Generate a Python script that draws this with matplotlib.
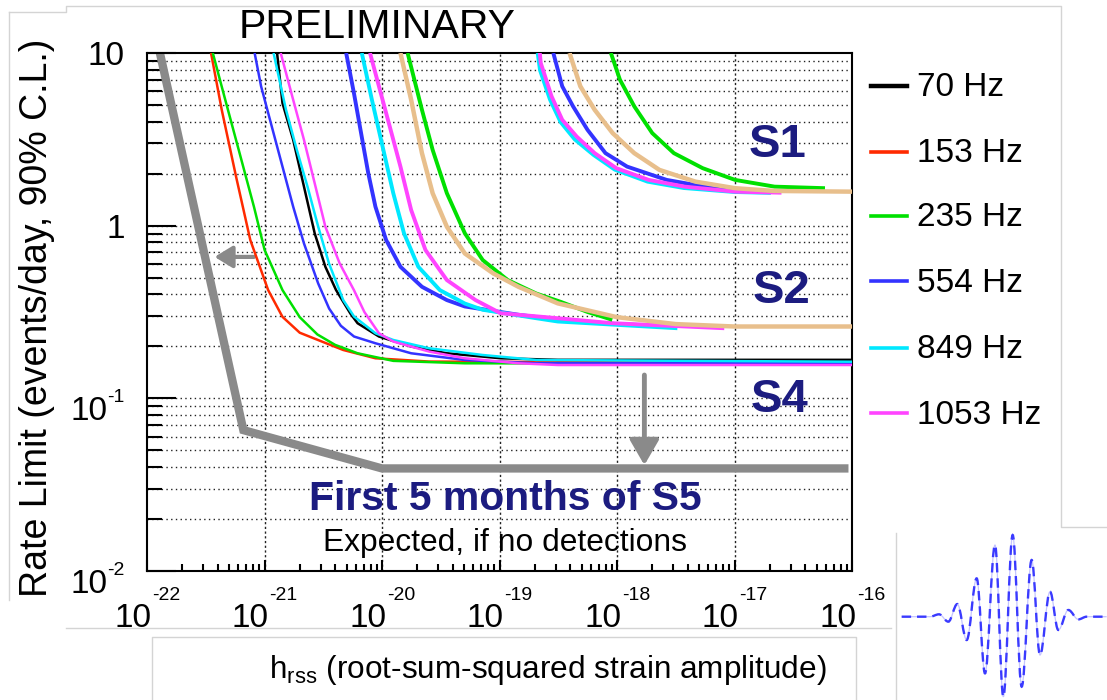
import numpy as np
import matplotlib
matplotlib.use('Agg')
import matplotlib.pyplot as plt
from matplotlib.lines import Line2D
from matplotlib.path import Path
from matplotlib.patches import PathPatch
from matplotlib.ticker import FixedLocator, NullFormatter

plt.rcParams['font.family'] = ['Liberation Sans', 'DejaVu Sans']
plt.rcParams['mathtext.fontset'] = 'custom'
plt.rcParams['mathtext.rm'] = 'Liberation Sans'
plt.rcParams['mathtext.it'] = 'Liberation Sans:italic'
plt.rcParams['mathtext.bf'] = 'Liberation Sans:bold'

# ---------------- data: log10(h_rss), log10(rate limit) ----------------
legend_labels = ['70 Hz', '153 Hz', '235 Hz', '554 Hz', '849 Hz', '1053 Hz']
x_tick_exps = [-22, -21, -20, -19, -18, -17, -16]
y_tick_exps = [-2, -1, 0, 1]
y_tick_plain = {0: '1', 1: '10'}

# S4 run
s4_70_logh = [-20.893, -20.847, -20.756, -20.664, -20.573, -20.482, -20.391, -20.269, -20.208, -20.026, -19.752, -19.448, -18.991, -18.504, -16.0]
s4_70_logr = [1.0, 0.710, 0.497, 0.226, -0.044, -0.238, -0.373, -0.509, -0.565, -0.642, -0.700, -0.739, -0.768, -0.777, -0.777]
s4_153_logh = [-21.455, -21.364, -21.242, -21.121, -20.969, -20.847, -20.70, -20.512, -20.330, -20.056, -19.600, -16.0]
s4_153_logr = [1.0, 0.671, 0.284, -0.083, -0.373, -0.528, -0.62, -0.671, -0.720, -0.768, -0.787, -0.797]
s4_235_logh = [-21.44, -21.334, -21.212, -21.090, -20.999, -20.847, -20.70, -20.55, -20.40, -20.208, -19.904, -19.295, -16.0]
s4_235_logr = [1.0, 0.729, 0.420, 0.110, -0.141, -0.373, -0.53, -0.63, -0.69, -0.739, -0.783, -0.797, -0.800]
s4_554_logh = [-21.084, -21.029, -20.938, -20.847, -20.756, -20.664, -20.543, -20.45, -20.35, -20.238, -20.056, -19.752, -19.295, -18.687, -16.0]
s4_554_logr = [1.0, 0.807, 0.574, 0.342, 0.110, -0.103, -0.335, -0.48, -0.58, -0.642, -0.681, -0.739, -0.778, -0.797, -0.797]
s4_849_logh = [-20.923, -20.817, -20.725, -20.634, -20.543, -20.451, -20.330, -20.238, -20.056, -19.904, -19.600, -19.143, -18.687, -16.0]
s4_849_logr = [1.0, 0.671, 0.439, 0.226, -0.006, -0.219, -0.431, -0.526, -0.623, -0.662, -0.710, -0.749, -0.778, -0.788]
s4_1053_logh = [-20.862, -20.756, -20.664, -20.573, -20.482, -20.360, -20.239, -20.15, -20.026, -19.904, -19.600, -19.295, -18.839, -18.504, -16.0]
s4_1053_logr = [1.0, 0.729, 0.497, 0.246, -0.006, -0.219, -0.373, -0.50, -0.623, -0.671, -0.729, -0.768, -0.797, -0.807, -0.807]

# S2 run
s2_554_logh = [-20.305, -20.239, -20.178, -20.117, -20.056, -19.965, -19.843, -19.660, -19.448, -19.295, -18.839, -18.504, -18.0, -17.5]
s2_554_logr = [1.0, 0.768, 0.536, 0.304, 0.110, -0.083, -0.238, -0.354, -0.431, -0.468, -0.516, -0.545, -0.570, -0.584]
s2_849_logh = [-20.172, -20.086, -19.995, -19.904, -19.813, -19.691, -19.508, -19.295, -19.143, -18.687, -18.504, -17.486]
s2_849_logr = [1.0, 0.729, 0.458, 0.188, -0.044, -0.238, -0.373, -0.451, -0.487, -0.536, -0.555, -0.594]
s2_1053_logh = [-20.102, -20.026, -19.934, -19.843, -19.752, -19.630, -19.448, -19.204, -18.991, -18.504, -18.037, -17.087]
s2_1053_logr = [1.0, 0.807, 0.574, 0.342, 0.091, -0.141, -0.315, -0.431, -0.507, -0.536, -0.565, -0.594]
s2_tan_logh = [-19.843, -19.752, -19.660, -19.569, -19.448, -19.295, -19.052, -18.839, -18.504, -18.0, -17.5, -17.0, -16.0]
s2_tan_logr = [1.0, 0.729, 0.420, 0.188, -0.006, -0.161, -0.277, -0.354, -0.45, -0.53, -0.57, -0.584, -0.584]
s2_235_logh = [-19.782, -19.660, -19.569, -19.448, -19.295, -19.143, -18.930, -18.687, -18.480, -18.25, -18.04]
s2_235_logr = [1.0, 0.671, 0.439, 0.188, -0.044, -0.199, -0.315, -0.393, -0.441, -0.50, -0.545]

# S1 run
s1_554_logh = [-18.542, -18.466, -18.374, -18.251, -18.098, -17.914, -17.577, -17.179, -16.995]
s1_554_logr = [1.0, 0.807, 0.691, 0.555, 0.420, 0.342, 0.265, 0.217, 0.203]
s1_849_logh = [-18.675, -18.655, -18.57, -18.48, -18.36, -18.20, -18.02, -17.74, -17.43, -17.0, -16.69]
s1_849_logr = [1.0, 0.90, 0.73, 0.60, 0.50, 0.41, 0.325, 0.255, 0.218, 0.195, 0.19]
s1_1053_logh = [-18.657, -18.649, -18.557, -18.466, -18.343, -18.190, -18.006, -17.730, -17.424, -16.995, -16.60]
s1_1053_logr = [1.0, 0.942, 0.749, 0.613, 0.516, 0.420, 0.333, 0.265, 0.226, 0.197, 0.191]
s1_tan_logh = [-18.404, -18.312, -18.190, -18.037, -17.853, -17.639, -17.332, -16.995, -16.659, -16.0]
s1_tan_logr = [1.0, 0.807, 0.671, 0.536, 0.420, 0.323, 0.255, 0.217, 0.201, 0.197]
s1_235_logh = [-18.052, -17.975, -17.853, -17.700, -17.516, -17.271, -16.995, -16.659, -16.230]
s1_235_logr = [1.0, 0.845, 0.691, 0.536, 0.420, 0.333, 0.265, 0.226, 0.217]

# S5 expected (grey)
s5_logh = [-21.89, -21.18, -20.0, -16.03]
s5_logr = [1.0, -1.184, -1.406, -1.406]

# arrows (tail, head) in log units
arrow_left_logh = [-21.09, -21.425]
arrow_left_logr = [-0.181, -0.181]
arrow_down_logh = [-17.767, -17.767]
arrow_down_logr = [-0.865, -1.387]

# waveform icon extrema (time units, relative amplitude)
wave_t = [65, 150, 177, 205, 232, 260, 290, 315, 345, 370, 398, 425, 455, 480, 510, 535, 565, 595, 620, 680]
wave_a = [0.0, 0.0, 0.029, -0.061, 0.155, -0.286, 0.469, -0.694, 0.878, -0.98, 1.0, -0.857, 0.694, -0.469, 0.306, -0.163, 0.082, -0.033, 0.0, 0.0]

# ---------------- colours ----------------
C_BLACK = '#000000'
C_RED = '#ff2a00'
C_GREEN = '#00e000'
C_BLUE = '#3333ff'
C_CYAN = '#00e8ff'
C_MAG = '#ff44ff'
C_TAN = '#e8bf8c'
C_NAVY = '#1c1c80'
C_GREY = '#8a8a8a'

W, H = 1107, 700
fig = plt.figure(figsize=(W / 100, H / 100), dpi=100)


def fx(px):
    return px / W


def fy(py):
    return 1 - py / H


# slide frame lines (faint)
frame_col = '#d4d4d4'
for xs, ys in [([9, 66, 66, 1061, 1061, 1107], [12, 12, 6, 6, 527, 527]),
               ([9, 9], [12, 600]),
               ([66, 891], [628, 628]),
               ([152, 152, 856, 856], [700, 637, 637, 700]),
               ([896, 896], [533, 700])]:
    fig.add_artist(Line2D([fx(v) for v in xs], [fy(v) for v in ys], color=frame_col, lw=1.0))

ax = fig.add_axes([fx(147), fy(571), fx(852) - fx(147), fy(53) - fy(571)])
ax.set_xscale('log')
ax.set_yscale('log')
ax.set_xlim(10.0 ** x_tick_exps[0], 10.0 ** x_tick_exps[-1])
ax.set_ylim(10.0 ** y_tick_exps[0], 10.0 ** y_tick_exps[-1])


def tenp(a):
    return [10.0 ** v for v in a]


# grid
for yv in [m * 10.0 ** e for e in (-2, -1, 0) for m in range(1, 10)]:
    if 1e-2 < yv < 10:
        ax.axhline(yv, color='#222222', lw=1.0, ls=(0, (1.0, 2.4)), zorder=0.5)
for e in x_tick_exps[1:-1]:
    ax.axvline(10.0 ** e, color='#222222', lw=1.0, ls=(0, (1.6, 1.8)), zorder=0.5)

# S5 expected
ax.plot(tenp(s5_logh), tenp(s5_logr), color=C_GREY, lw=6.0, solid_joinstyle='miter',
        solid_capstyle='butt', zorder=2)
ax.annotate('', xy=(10 ** arrow_left_logh[1], 10 ** arrow_left_logr[1]),
            xytext=(10 ** arrow_left_logh[0], 10 ** arrow_left_logr[0]),
            arrowprops=dict(arrowstyle='-|>,head_length=0.9,head_width=0.55', color=C_GREY,
                            lw=3.0, mutation_scale=12, shrinkA=0, shrinkB=0), zorder=2)
ax.annotate('', xy=(10 ** arrow_down_logh[1], 10 ** arrow_down_logr[1]),
            xytext=(10 ** arrow_down_logh[0], 10 ** arrow_down_logr[0]),
            arrowprops=dict(arrowstyle='-|>,head_length=0.95,head_width=0.55', color=C_GREY,
                            lw=3.5, mutation_scale=16, shrinkA=0, shrinkB=0), zorder=2)

# S2 and S1 (thick)
thick = [(s2_554_logh, s2_554_logr, C_BLUE), (s2_849_logh, s2_849_logr, C_CYAN),
         (s2_1053_logh, s2_1053_logr, C_MAG), (s2_235_logh, s2_235_logr, C_GREEN),
         (s2_tan_logh, s2_tan_logr, C_TAN),
         (s1_554_logh, s1_554_logr, C_BLUE), (s1_849_logh, s1_849_logr, C_CYAN),
         (s1_1053_logh, s1_1053_logr, C_MAG), (s1_235_logh, s1_235_logr, C_GREEN),
         (s1_tan_logh, s1_tan_logr, C_TAN)]
for lh, lr, c in thick:
    ax.plot(tenp(lh), tenp(lr), color=c, lw=3.2 if c == C_TAN else 2.8, zorder=3,
            solid_capstyle='butt')

# S4 (thin)
thin = [(s4_153_logh, s4_153_logr, C_RED), (s4_235_logh, s4_235_logr, C_GREEN),
        (s4_554_logh, s4_554_logr, C_BLUE), (s4_70_logh, s4_70_logr, C_BLACK),
        (s4_849_logh, s4_849_logr, C_CYAN), (s4_1053_logh, s4_1053_logr, C_MAG)]
for lh, lr, c in thin:
    ax.plot(tenp(lh), tenp(lr), color=c, lw=1.8, zorder=4, solid_capstyle='butt')

# texts inside
for lab, (px, py) in [('S1', (778, 145)), ('S2', (782, 291)), ('S4', (780, 400))]:
    fig.text(fx(px), fy(py), lab, fontsize=34, fontweight='bold', color=C_NAVY,
             ha='center', va='center', zorder=6)
fig.text(fx(505), fy(499), 'First 5 months of S5', fontsize=29.4, fontweight='bold',
         color=C_NAVY, ha='center', va='center', zorder=6)
fig.text(fx(505), fy(543), 'Expected, if no detections', fontsize=22.9, color='black',
         ha='center', va='center', zorder=6)

# axes styling
for sp in ax.spines.values():
    sp.set_linewidth(1.5)
ax.xaxis.set_major_locator(FixedLocator([10.0 ** e for e in x_tick_exps]))
ax.xaxis.set_major_formatter(NullFormatter())
ax.xaxis.set_minor_locator(FixedLocator([m * 10.0 ** e for e in x_tick_exps[:-1] for m in range(2, 10)]))
ax.xaxis.set_minor_formatter(NullFormatter())
ax.yaxis.set_major_locator(FixedLocator([10.0 ** e for e in y_tick_exps]))
ax.yaxis.set_major_formatter(NullFormatter())
ax.yaxis.set_minor_locator(FixedLocator([m * 10.0 ** e for e in (-2, -1, 0) for m in range(2, 10)]))
ax.yaxis.set_minor_formatter(NullFormatter())
ax.tick_params(which='both', direction='in', top=False, right=False, width=1.5)
ax.tick_params(axis='y', which='major', length=21)
ax.tick_params(axis='y', which='minor', length=10.5)
ax.tick_params(axis='x', which='major', length=8)
ax.tick_params(axis='x', which='minor', length=5)

# tick labels drawn as "10" + raised exponent (hyphen minus, like the original)
BASE_FS, SUP_FS = 24, 14
renderer = fig.canvas.get_renderer()


def text_width(s, size):
    t = fig.text(0, 0, s, fontsize=size)
    w = t.get_window_extent(renderer=renderer).width
    t.remove()
    return w


wb = text_width('10', BASE_FS)
for e in x_tick_exps:
    xd, _ = ax.transData.transform((10.0 ** e, 1.0))
    sup = '-%d' % (-e)
    ws = text_width(sup, SUP_FS)
    left = xd - (wb + ws) / 2.0
    fig.text(left / W, fy(627), '10', fontsize=BASE_FS, ha='left', va='baseline')
    fig.text((left + wb + 0.5) / W, fy(600), sup, fontsize=SUP_FS, ha='left', va='baseline')

RIGHT = 125
for e in y_tick_exps:
    _, yd = ax.transData.transform((1e-20, 10.0 ** e))
    ypx = H - yd
    if e in y_tick_plain:
        fig.text(RIGHT / W, fy(ypx + 12), y_tick_plain[e], fontsize=BASE_FS, ha='right',
                 va='baseline')
    else:
        sup = '-%d' % (-e)
        ws = text_width(sup, SUP_FS)
        fig.text(RIGHT / W, fy(ypx + 4), sup, fontsize=SUP_FS, ha='right', va='baseline')
        fig.text((RIGHT - ws - 0.5) / W, fy(ypx + 22), '10', fontsize=BASE_FS, ha='right',
                 va='baseline')

# title and axis labels
fig.text(fx(377), fy(27), 'PRELIMINARY', fontsize=29.5, ha='center', va='center')
fig.text(fx(37), fy(318), 'Rate Limit (events/day, 90% C.L.)', fontsize=27, rotation=90,
         ha='center', va='center')
fig.text(fx(548), fy(670), 'h$_{\\mathregular{rss}}$ (root-sum-squared strain amplitude)',
         fontsize=22.7, ha='center', va='center')

# legend (manual)
leg_y = [88, 154, 218, 283, 350, 415]
leg_cols = [C_BLACK, C_RED, C_GREEN, C_BLUE, C_CYAN, C_MAG]
for lab, yy, c in zip(legend_labels, leg_y, leg_cols):
    fig.add_artist(Line2D([fx(871), fx(907)], [fy(yy - 2), fy(yy - 2)], color=c,
                          lw=3.2 if c == C_BLACK else 2.6))
    fig.text(fx(917), fy(yy), lab, fontsize=24, ha='left', va='center')

# waveform icon
iax = fig.add_axes([fx(896), fy(700), fx(1107) - fx(896), fy(527) - fy(700)])
iax.set_xlim(48, 681)
iax.set_ylim(-1.02, 1.098)
iax.axis('off')
verts = [(wave_t[0], wave_a[0])]
codes = [Path.MOVETO]
for i in range(1, len(wave_t)):
    t0, a0, t1, a1 = wave_t[i - 1], wave_a[i - 1], wave_t[i], wave_a[i]
    k = 0.364 * (t1 - t0)
    verts += [(t0 + k, a0), (t1 - k, a1), (t1, a1)]
    codes += [Path.CURVE4, Path.CURVE4, Path.CURVE4]
wpath = Path(verts, codes)
iax.add_patch(PathPatch(wpath, facecolor='none', edgecolor='#c4c4ff', lw=0.9))
iax.add_patch(PathPatch(wpath, facecolor='none', edgecolor='#3a3aff', lw=1.7,
                        linestyle=(0, (4, 2.5))))

fig.savefig('out.png', dpi=100)
